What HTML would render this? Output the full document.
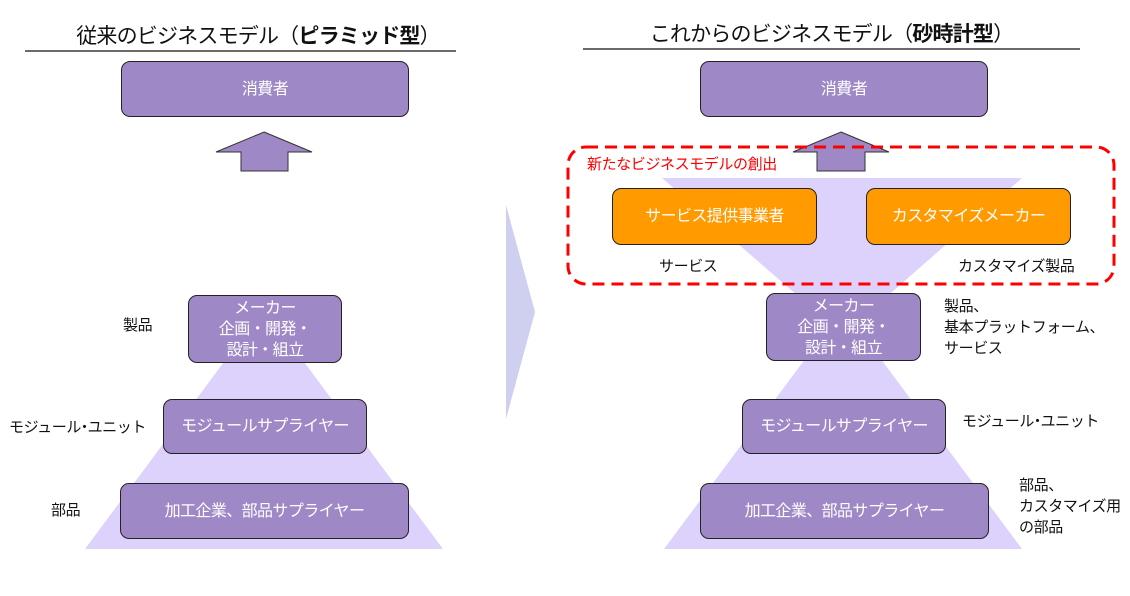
<!DOCTYPE html>
<html><head><meta charset="utf-8"><style>
body{margin:0;width:1130px;height:596px;background:#fff;position:relative;overflow:hidden;font-family:"Liberation Sans","Noto Sans CJK JP",sans-serif;}
.a{position:absolute;}
.box{position:absolute;box-sizing:border-box;background:#9f88c6;border:1px solid #222;border-radius:9px;color:#fff;font-size:16px;letter-spacing:-0.6px;display:flex;align-items:center;justify-content:center;text-align:center;line-height:21px;white-space:nowrap;}
.or{background:#ff9a00;}
.lbl{position:absolute;font-size:15px;color:#111;line-height:21px;white-space:nowrap;letter-spacing:-0.4px;}
.t{position:absolute;font-size:21px;color:#111;white-space:nowrap;text-align:center;letter-spacing:-0.8px;}
.d{margin:0 -4px;}
</style></head><body>
<svg class="a" style="left:0;top:0" width="1130" height="596">
<polygon points="264,308 85,549 443,549" fill="#ddd2fb"/>
<polygon points="843,308 664,549 1022,549" fill="#ddd2fb"/>
<polygon points="662,178 1022,178 843,335" fill="#ddd2fb"/>
<polygon points="506,205 535,312 506,419" fill="#cfcff0"/>
<line x1="25" y1="51" x2="456" y2="51" stroke="#111" stroke-width="1.2"/>
<line x1="583" y1="49" x2="1080" y2="49" stroke="#111" stroke-width="1.2"/>
<polygon points="264,132 312,152 288,152 288,171 241,171 241,152 216,152" fill="#9f88c6" stroke="#333" stroke-width="1"/>
<polygon points="841,132 889,152 865,152 865,171 817,171 817,152 793,152" fill="#9f88c6" stroke="#333" stroke-width="1"/>
</svg>
<div class="t" style="left:25px;width:466px;top:20px;">従来のビジネスモデル（<b>ピラミッド型</b>）</div>
<div class="t" style="left:583px;width:497px;top:18px;">これからのビジネスモデル（<b>砂時計型</b>）</div>
<div class="box" style="left:121px;top:61px;width:288px;height:56px;"><div>消費者</div></div>
<div class="box" style="left:700px;top:61px;width:288px;height:56px;"><div>消費者</div></div>
<div class="box" style="left:188px;top:295px;width:154px;height:68px;"><div>メーカー<br>企画・開発・<br>設計・組立</div></div>
<div class="box" style="left:163px;top:399px;width:204px;height:55px;"><div>モジュールサプライヤー</div></div>
<div class="box" style="left:120px;top:483px;width:289px;height:56px;"><div>加工企業、部品サプライヤー</div></div>
<div class="box" style="left:766px;top:293px;width:155px;height:68px;"><div>メーカー<br>企画・開発・<br>設計・組立</div></div>
<div class="box" style="left:742px;top:399px;width:204px;height:55px;"><div>モジュールサプライヤー</div></div>
<div class="box" style="left:700px;top:483px;width:289px;height:56px;"><div>加工企業、部品サプライヤー</div></div>
<div class="box or" style="left:612px;top:188px;width:205px;height:57px;"><div>サービス提供事業者</div></div>
<div class="box or" style="left:866px;top:188px;width:205px;height:57px;"><div>カスタマイズメーカー</div></div>
<svg class="a" style="left:0;top:0" width="1130" height="596">
<rect x="568" y="147" width="546" height="137" rx="18" fill="none" stroke="#f00" stroke-width="3" stroke-dasharray="12,7"/>
</svg>
<div class="lbl" style="left:587px;top:154px;color:#f00;">新たなビジネスモデルの創出</div>
<div class="lbl" style="left:659px;top:256px;">サービス</div>
<div class="lbl" style="left:958px;top:256px;">カスタマイズ製品</div>
<div class="lbl" style="left:123px;top:315px;">製品</div>
<div class="lbl" style="left:9px;top:417px;">モジュール<span class="d">・</span>ユニット</div>
<div class="lbl" style="left:51px;top:500px;">部品</div>
<div class="lbl" style="left:944px;top:296px;">製品、<br>基本プラットフォーム、<br>サービス</div>
<div class="lbl" style="left:962px;top:411px;">モジュール<span class="d">・</span>ユニット</div>
<div class="lbl" style="left:1019px;top:475px;">部品、<br>カスタマイズ用<br>の部品</div>
</body></html>
